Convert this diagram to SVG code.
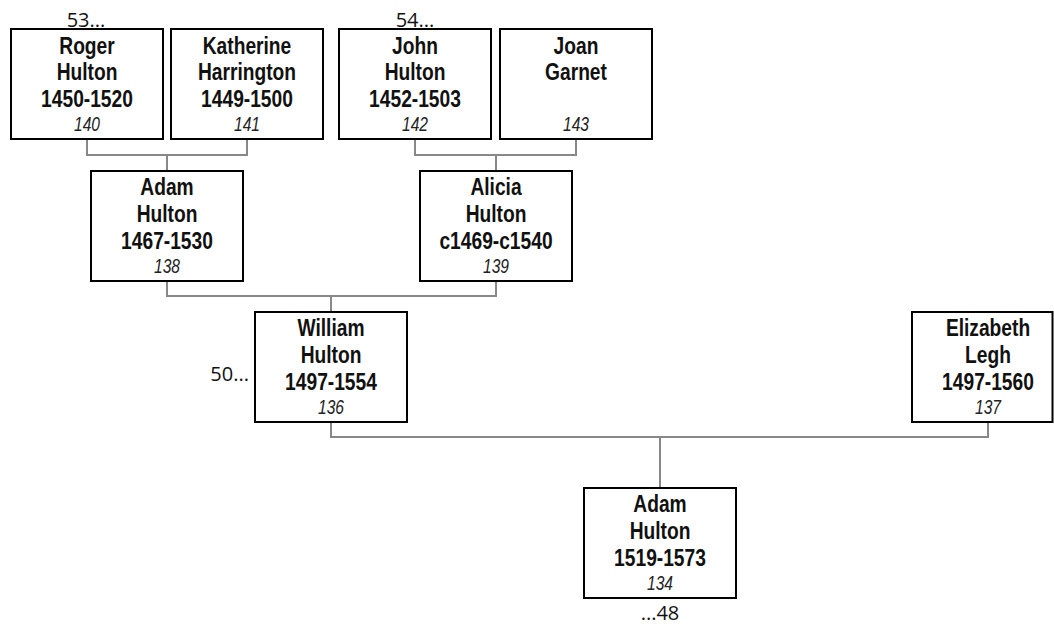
<svg xmlns="http://www.w3.org/2000/svg" width="1054" height="629" viewBox="0 0 1054 629">
<style>
.box{fill:#fff;stroke:#000;stroke-width:2}
.n{font-family:"Liberation Sans",Arial,sans-serif;font-weight:bold;font-size:24px;fill:#111;text-anchor:middle}
.i{font-family:"Liberation Sans",Arial,sans-serif;font-style:italic;font-size:19.5px;fill:#222;text-anchor:middle}
.c{fill:none;stroke:#888;stroke-width:2}
.e{font-family:"Open Sans","Noto Sans",sans-serif;font-size:20px;fill:#111}
</style>
<rect width="1054" height="629" fill="#fff"/>
<g id="connectors">
<path class="c" d="M87,139V155H247V139M167,155V171"/>
<path class="c" d="M415,139V155H576V139M496,155V171"/>
<path class="c" d="M167,281V296H496V281M331,296V312"/>
<path class="c" d="M331,422V437H988V422M660,437V488"/>
</g>
<g id="p140"><rect class="box" x="11" y="29" width="152" height="110"/>
<g transform="translate(87,0) scale(0.8,1)"><text class="n" x="0" y="54">Roger</text><text class="n" x="0" y="80">Hulton</text><text class="n" x="0" y="107">1450-1520</text><text class="i" x="0" y="131">140</text></g></g>
<g id="p141"><rect class="box" x="171" y="29" width="152" height="110"/>
<g transform="translate(247,0) scale(0.8,1)"><text class="n" x="0" y="54">Katherine</text><text class="n" x="0" y="80">Harrington</text><text class="n" x="0" y="107">1449-1500</text><text class="i" x="0" y="131">141</text></g></g>
<g id="p142"><rect class="box" x="339" y="29" width="152" height="110"/>
<g transform="translate(415,0) scale(0.8,1)"><text class="n" x="0" y="54">John</text><text class="n" x="0" y="80">Hulton</text><text class="n" x="0" y="107">1452-1503</text><text class="i" x="0" y="131">142</text></g></g>
<g id="p143"><rect class="box" x="500" y="29" width="152" height="110"/>
<g transform="translate(576,0) scale(0.8,1)"><text class="n" x="0" y="54">Joan</text><text class="n" x="0" y="80">Garnet</text><text class="i" x="0" y="131">143</text></g></g>
<g id="p138"><rect class="box" x="91" y="171" width="152" height="110"/>
<g transform="translate(167,0) scale(0.8,1)"><text class="n" x="0" y="195">Adam</text><text class="n" x="0" y="222">Hulton</text><text class="n" x="0" y="249">1467-1530</text><text class="i" x="0" y="273">138</text></g></g>
<g id="p139"><rect class="box" x="420" y="171" width="152" height="110"/>
<g transform="translate(496,0) scale(0.8,1)"><text class="n" x="0" y="195">Alicia</text><text class="n" x="0" y="222">Hulton</text><text class="n" x="0" y="249">c1469-c1540</text><text class="i" x="0" y="273">139</text></g></g>
<g id="p136"><rect class="box" x="255" y="312" width="152" height="110"/>
<g transform="translate(331,0) scale(0.8,1)"><text class="n" x="0" y="336">William</text><text class="n" x="0" y="363">Hulton</text><text class="n" x="0" y="390">1497-1554</text><text class="i" x="0" y="414">136</text></g></g>
<g id="p137"><rect class="box" x="912" y="312" width="140.5" height="110"/>
<g transform="translate(988,0) scale(0.8,1)"><text class="n" x="0" y="336">Elizabeth</text><text class="n" x="0" y="363">Legh</text><text class="n" x="0" y="390">1497-1560</text><text class="i" x="0" y="414">137</text></g></g>
<g id="p134"><rect class="box" x="584" y="488" width="152" height="110"/>
<g transform="translate(660,0) scale(0.8,1)"><text class="n" x="0" y="512">Adam</text><text class="n" x="0" y="539">Hulton</text><text class="n" x="0" y="566">1519-1573</text><text class="i" x="0" y="590">134</text></g></g>
<g id="labels">
<text class="e" x="86" y="27" text-anchor="middle">53...</text>
<text class="e" x="415" y="27" text-anchor="middle">54...</text>
<text class="e" x="249" y="381" text-anchor="end">50...</text>
<text class="e" x="660" y="620" text-anchor="middle">...48</text>
</g>
</svg>
